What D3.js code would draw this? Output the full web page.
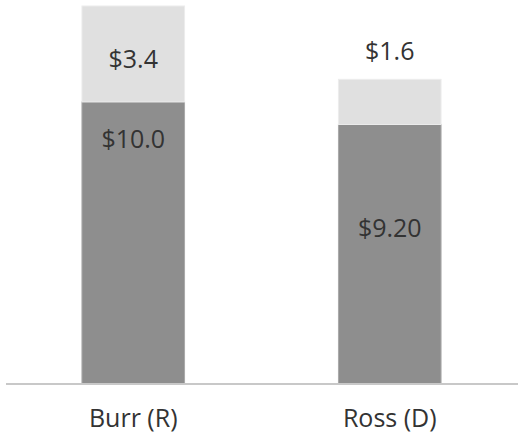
<!DOCTYPE html>
<html><head><meta charset="utf-8">
<script src="https://cdn.jsdelivr.net/npm/d3@7"></script>
<style>body{margin:0;background:#fff}svg{display:block}</style>
</head><body>
<svg id="c" width="528" height="435"></svg>
<script>
const categories = ["Burr (R)", "Ross (D)"];
const baseValues = [10.0, 9.2];
const topValues = [3.4, 1.6];
const baseLabels = ["$10.0", "$9.20"];
const topLabels = ["$3.4", "$1.6"];

const svg = d3.select("#c");
const font = "'Open Sans', sans-serif";
const fs = 25;
const txt = "#333333";
const x = d3.scaleBand().domain(categories).range([5, 518]).paddingInner(0.6).paddingOuter(0.3);
const y = d3.scaleLinear().domain([0, 13.4]).range([384, 6]);

// label anchors in value units (layout, not data)
const baseLabelAt = [8.71, 5.55];
const topLabelAt = [11.55, 11.85];

const g = svg.append("g");
categories.forEach((c, i) => {
  g.append("rect").attr("x", x(c)).attr("width", x.bandwidth())
    .attr("y", y(baseValues[i])).attr("height", y(0) - y(baseValues[i]))
    .attr("fill", "#8e8e8e").attr("stroke", "#a9a9a9").attr("stroke-width", 1);
  g.append("rect").attr("x", x(c)).attr("width", x.bandwidth())
    .attr("y", y(baseValues[i] + topValues[i])).attr("height", y(baseValues[i]) - y(baseValues[i] + topValues[i]))
    .attr("fill", "#e0e0e0").attr("stroke", "#ececec").attr("stroke-width", 1);
  g.append("text").attr("x", x(c) + x.bandwidth() / 2).attr("y", y(baseLabelAt[i]))
    .attr("text-anchor", "middle").attr("dominant-baseline", "central")
    .attr("font-family", font).attr("font-size", fs).attr("fill", txt).text(baseLabels[i]);
  g.append("text").attr("x", x(c) + x.bandwidth() / 2).attr("y", y(topLabelAt[i]))
    .attr("text-anchor", "middle").attr("dominant-baseline", "central")
    .attr("font-family", font).attr("font-size", fs).attr("fill", txt).text(topLabels[i]);
});

svg.append("line").attr("x1", 6).attr("x2", 518).attr("y1", 384).attr("y2", 384)
  .attr("stroke", "#c8c8c8").attr("stroke-width", 2);

const ax = svg.append("g").attr("transform", "translate(0,384)").call(d3.axisBottom(x).tickSize(0).tickPadding(25));
ax.select(".domain").remove();
ax.selectAll("text").attr("font-family", font).attr("font-size", fs).attr("fill", txt)
  .attr("dy", "0.71em");
</script>
</body></html>
